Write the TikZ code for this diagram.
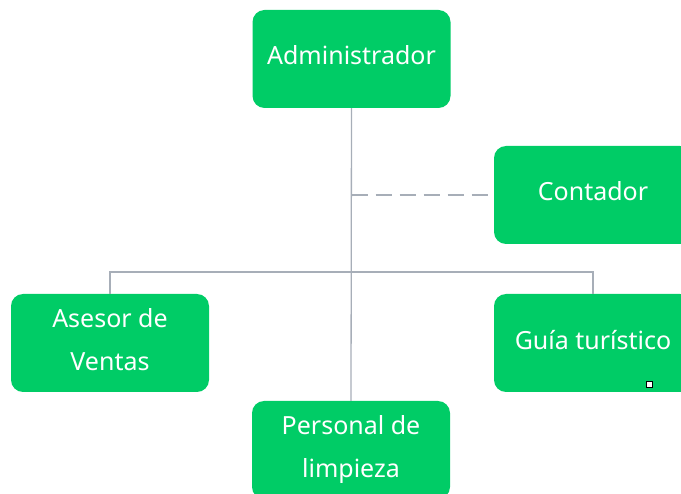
\documentclass[tikz,border=0pt]{standalone}
\usepackage{fontspec}
\setmainfont{Noto Sans}
\usetikzlibrary{positioning}
\definecolor{boxgreen}{HTML}{00CC66}
\definecolor{linegray}{HTML}{A7AEB8}

\begin{document}
\begin{tikzpicture}[x=1pt,y=-1pt]
      \useasboundingbox (0,0) rectangle (681,494);
      \clip (0,0) rectangle (681,494);
      \begin{scope}[every node/.style={fill=boxgreen,text=white,rounded corners=12pt,
          minimum width=198pt,minimum height=98pt,align=center,text depth=7pt,
          font=\fontsize{25}{43}\selectfont}]
        \node (adm) at (351.5,59) {Administrador};
        \node (cont) at (593,195) {Contador};
        \node (ases) at (110,343) {Asesor de\\Ventas};
        \node (guia) at (593,343) {Guía turístico};
        \node (pers) at (351,450) {Personal de\\limpieza};
      \end{scope}
      \begin{scope}[every path/.style={draw=linegray,line width=1.3pt}]
        \coordinate (bus) at (adm.south |- 0,272);
        \path (adm.south) -- (pers.north);
        \path (ases.north) |- (bus) -| (guia.north);
        \path[dash pattern=on 16pt off 8pt] (adm.south |- cont.west) -- (cont.west);
      \end{scope}
      \node[draw=black,fill=white,line width=0.8pt,minimum size=6pt,inner sep=0pt] (handle) at (649,384) {};
    \end{tikzpicture}
\end{document}
